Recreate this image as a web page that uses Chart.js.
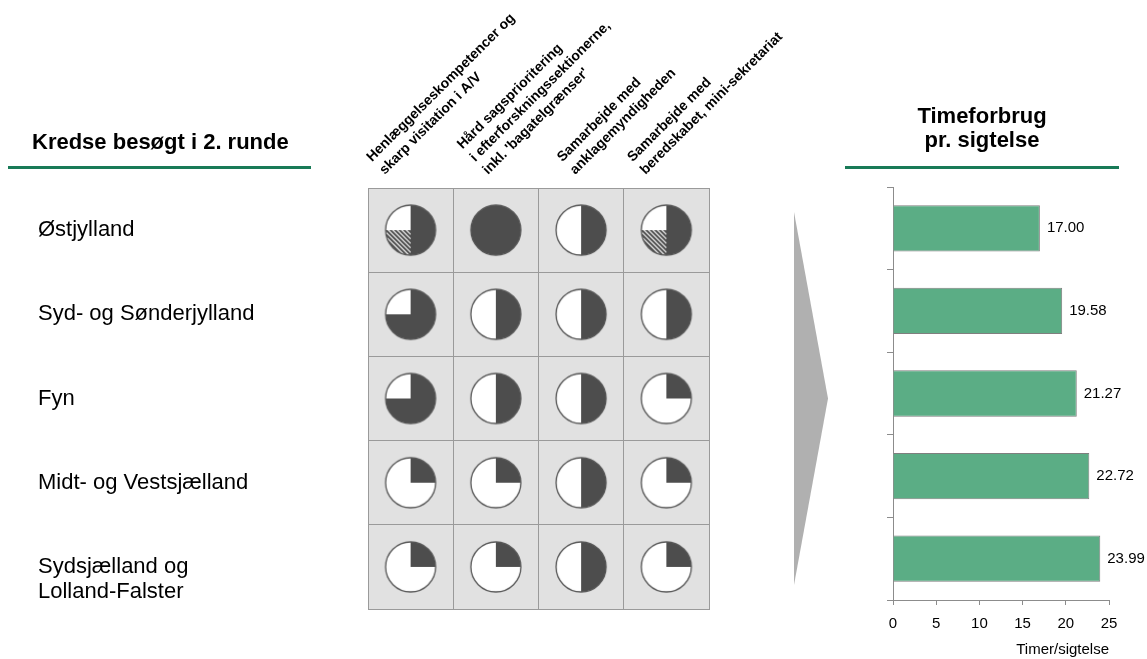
<!DOCTYPE html>
<html>
<head>
<meta charset="utf-8">
<title>Kredse besøgt i 2. runde</title>
<script src="https://cdn.jsdelivr.net/npm/chart.js"></script>
<style>
  body { margin: 0; width: 1147px; height: 659px; position: relative; overflow: hidden; background: #fff;
         font-family: "Liberation Sans", Arial, sans-serif; }
  canvas { position: absolute; top: 0; }
  .head { position: absolute; font-size: 22px; font-weight: bold; color: #000; }
  .rule { position: absolute; height: 3px; background: #187a57; }
</style>
</head>
<body>
<canvas id="grid" width="840" height="659" style="left:0"></canvas>
<canvas id="bars" width="307" height="659" style="left:840px"></canvas>

<div class="head" style="left:32px; top:129px; line-height:26px;">Kredse besøgt i 2. runde</div>
<div class="rule" style="left:8px; top:166px; width:303px;"></div>
<div class="head" style="left:845px; top:104px; width:274px; line-height:24px; text-align:center;">Timeforbrug<br>pr. sigtelse</div>
<div class="rule" style="left:845px; top:166px; width:274px;"></div>

<script>
// police districts (rows) and the measures assessed in each (columns)
const regions = [
    ['Østjylland'],
    ['Syd- og Sønderjylland'],
    ['Fyn'],
    ['Midt- og Vestsjælland'],
    ['Sydsjælland og', 'Lolland-Falster']
];
const measures = [
    ['Henlæggelseskompetencer og', 'skarp visitation i A/V'],
    ['Hård sagsprioritering', 'i efterforskningssektionerne,', "inkl. 'bagatelgrænser'"],
    ['Samarbejde med', 'anklagemyndigheden'],
    ['Samarbejde med', 'beredskabet, mini-sekretariat']
];
// harvey balls: filled quarters and hatched (partly) quarters, one row per district
const filledQuarters = [
    [2, 4, 2, 2],
    [3, 2, 2, 2],
    [3, 2, 2, 1],
    [1, 1, 2, 1],
    [1, 1, 2, 1]
];
const hatchedQuarters = [
    [1, 0, 0, 1],
    [0, 0, 0, 0],
    [0, 0, 0, 0],
    [0, 0, 0, 0],
    [0, 0, 0, 0]
];
// hours per charge
const hours = [17.00, 19.58, 21.27, 22.72, 23.99];

const FONT = '"Liberation Sans", Arial, sans-serif';
const DARK = '#4d4d4d';
const LINE = '#9a9a9a';
Chart.defaults.font.family = FONT;
Chart.defaults.color = '#000';

const rowKeys = regions.map(r => r.join(' '));
const colKeys = measures.map(m => m.join(' '));

function harveyBall(q, h) {
    const size = 56, c = size / 2, r = 25;
    const cv = document.createElement('canvas');
    cv.width = cv.height = size;
    const g = cv.getContext('2d');
    const start = -Math.PI / 2, quarter = Math.PI / 2;

    g.beginPath();
    g.arc(c, c, r, 0, 2 * Math.PI);
    g.fillStyle = '#fff';
    g.fill();

    if (q > 0) {
        g.beginPath();
        g.moveTo(c, c);
        g.arc(c, c, r, start, start + q * quarter);
        g.closePath();
        g.fillStyle = DARK;
        g.fill();
    }
    if (h > 0) {
        g.save();
        g.beginPath();
        g.moveTo(c, c);
        g.arc(c, c, r, start + q * quarter, start + (q + h) * quarter);
        g.closePath();
        g.clip();
        g.strokeStyle = DARK;
        g.lineWidth = 2;
        for (let k = -size; k < size * 2; k += 4.5) {
            g.beginPath();
            g.moveTo(k, 0);
            g.lineTo(k + size, size);
            g.stroke();
        }
        g.restore();
    }
    g.beginPath();
    g.arc(c, c, r, 0, 2 * Math.PI);
    g.strokeStyle = '#555';
    g.lineWidth = 1.3;
    g.stroke();
    return cv;
}

const points = [], styles = [];
regions.forEach((_, r) => measures.forEach((_, c) => {
    points.push({ x: colKeys[c], y: rowKeys[r] });
    styles.push(harveyBall(filledQuarters[r][c], hatchedQuarters[r][c]));
}));

// grey cell background behind the grid lines
const cellFill = {
    id: 'cellFill',
    beforeDraw(chart) {
        const { ctx, chartArea: a } = chart;
        ctx.save();
        ctx.fillStyle = '#e1e1e1';
        ctx.fillRect(a.left, a.top, a.right - a.left, a.bottom - a.top);
        ctx.restore();
    }
};

// slanted column headers, district names and the grey arrow
const headerNudge = [-26, -8, -6, -21];
const gridText = {
    id: 'gridText',
    afterDraw(chart) {
        const { ctx, chartArea: a, scales: { x, y } } = chart;
        ctx.save();
        ctx.fillStyle = '#000';
        ctx.textAlign = 'left';

        ctx.font = 'bold 14px ' + FONT;
        ctx.textBaseline = 'alphabetic';
        measures.forEach((lines, i) => {
            ctx.save();
            ctx.translate(x.getPixelForValue(i) + headerNudge[i], a.top - 13);
            ctx.rotate(-Math.PI / 4);
            lines.forEach((t, j) => ctx.fillText(t, 0, -(lines.length - 1 - j) * 18));
            ctx.restore();
        });

        ctx.font = '22px ' + FONT;
        ctx.textBaseline = 'middle';
        regions.forEach((lines, i) => {
            const py = y.getPixelForValue(i);
            lines.forEach((t, j) => ctx.fillText(t, 38, py + j * 25));
        });

        const left = a.right + 85, tip = a.right + 119;
        const top = a.top + 24, bottom = a.bottom - 24;
        ctx.beginPath();
        ctx.moveTo(left, top);
        ctx.lineTo(tip, (top + bottom) / 2);
        ctx.lineTo(left, bottom);
        ctx.closePath();
        ctx.fillStyle = '#b0b0b0';
        ctx.fill();
        ctx.restore();
    }
};

new Chart(document.getElementById('grid'), {
    type: 'scatter',
    data: {
        datasets: [{
            data: points,
            pointStyle: styles,
            pointRadius: 26
        }]
    },
    options: {
        responsive: false,
        animation: false,
        events: [],
        layout: { padding: { left: 368, top: 188, right: 131, bottom: 50 } },
        plugins: { legend: { display: false }, tooltip: { enabled: false } },
        scales: {
            x: {
                type: 'category', labels: colKeys, offset: true,
                grid: { offset: true, color: LINE, drawTicks: false },
                border: { color: LINE },
                ticks: { display: false },
                afterFit: s => { s.height = 0; }
            },
            y: {
                type: 'category', labels: rowKeys, offset: true,
                grid: { offset: true, color: LINE, drawTicks: false },
                border: { color: LINE },
                ticks: { display: false },
                afterFit: s => { s.width = 0; }
            }
        }
    },
    plugins: [cellFill, gridText]
});

// value printed to the right of each bar
const valueLabels = {
    id: 'valueLabels',
    afterDatasetsDraw(chart) {
        const { ctx } = chart;
        ctx.save();
        ctx.font = '15px ' + FONT;
        ctx.fillStyle = '#000';
        ctx.textBaseline = 'middle';
        chart.getDatasetMeta(0).data.forEach((bar, i) => {
            ctx.fillText(hours[i].toFixed(2), bar.x + 7, bar.y);
        });
        ctx.restore();
    }
};

new Chart(document.getElementById('bars'), {
    type: 'bar',
    data: {
        labels: rowKeys,
        datasets: [{
            data: hours,
            backgroundColor: '#5bad85',
            borderColor: '#7f7f7f',
            borderWidth: 1,
            barPercentage: 0.56,
            categoryPercentage: 1
        }]
    },
    options: {
        indexAxis: 'y',
        responsive: false,
        animation: false,
        events: [],
        layout: { padding: { left: 0, top: 187, right: 38, bottom: 0 } },
        plugins: { legend: { display: false }, tooltip: { enabled: false } },
        scales: {
            x: {
                min: 0, max: 25,
                ticks: { stepSize: 5, font: { size: 15 }, padding: 10 },
                grid: { drawOnChartArea: false, tickLength: 5, color: '#8c8c8c' },
                border: { color: '#8c8c8c' },
                title: { display: true, text: 'Timer/sigtelse', align: 'end', font: { size: 15 }, padding: { top: 0, bottom: 0 } },
                afterFit: s => { s.height = 59; }
            },
            y: {
                ticks: { display: false },
                grid: { drawOnChartArea: false, tickLength: 6, color: '#8c8c8c' },
                border: { color: '#8c8c8c' },
                afterFit: s => { s.width = 53; }
            }
        }
    },
    plugins: [valueLabels]
});
</script>
</body>
</html>
